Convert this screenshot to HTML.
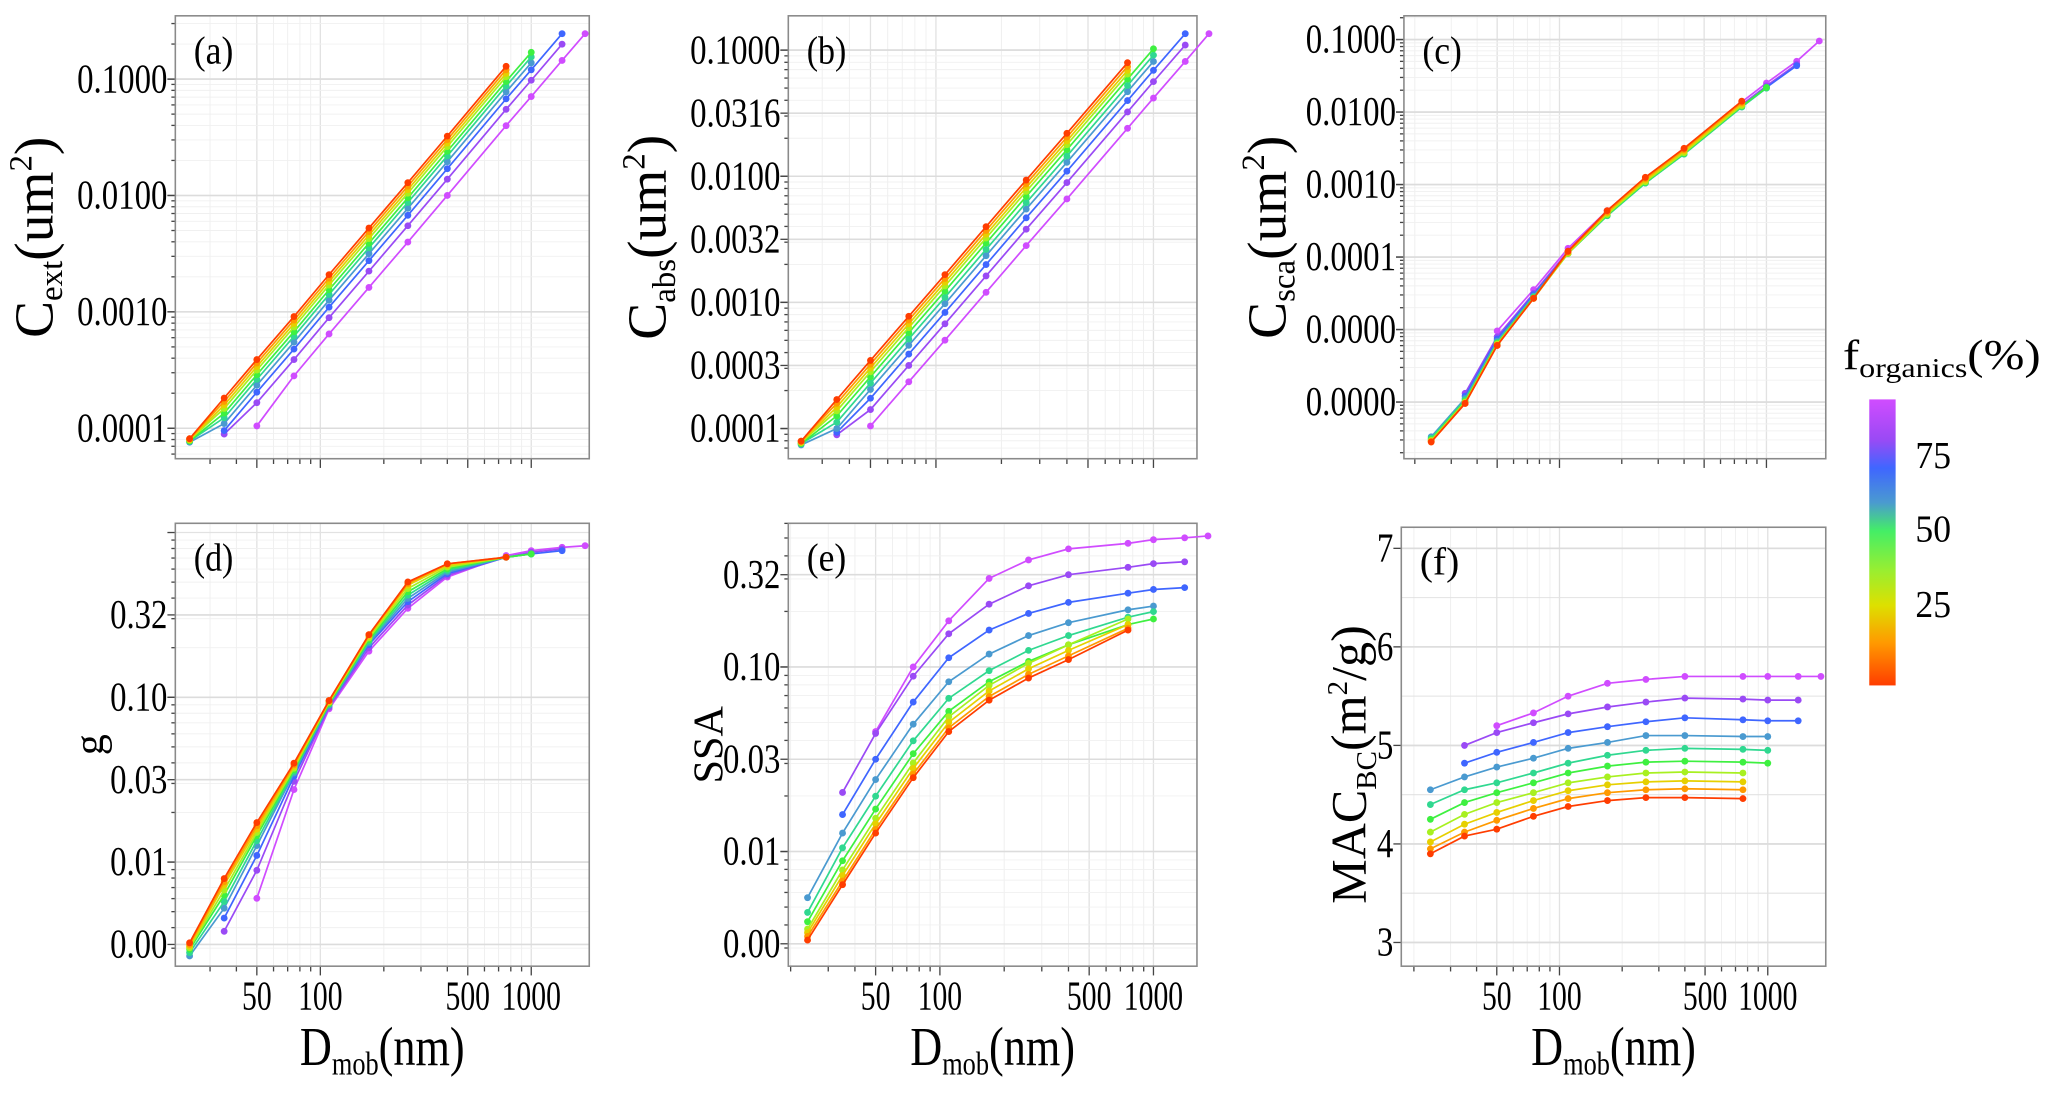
<!DOCTYPE html>
<html><head><meta charset="utf-8"><style>
html,body{margin:0;padding:0;background:#fff;}
svg{display:block;font-family:"Liberation Serif",serif;}
</style></head><body>
<svg id="fig" width="2067" height="1093" viewBox="0 0 1568 829.2" preserveAspectRatio="none" xmlns="http://www.w3.org/2000/svg">
<defs>
<linearGradient id="cbar" x1="0" y1="0" x2="0" y2="1">
<stop offset="0" stop-color="#d04cff"/>
<stop offset="0.14" stop-color="#9a4af5"/>
<stop offset="0.24" stop-color="#3f66ff"/>
<stop offset="0.36" stop-color="#4a9ad0"/>
<stop offset="0.46" stop-color="#44ee66"/>
<stop offset="0.6" stop-color="#9aee30"/>
<stop offset="0.72" stop-color="#dde000"/>
<stop offset="0.85" stop-color="#ff9a00"/>
<stop offset="1" stop-color="#ff3d00"/>
</linearGradient>
</defs>
<g id="root"></g>
<g>
<text x="1398" y="280" font-size="32" textLength="150" lengthAdjust="spacingAndGlyphs">f<tspan font-size="21" dy="6">organics</tspan><tspan dy="-6">(%)</tspan></text>
<rect x="1418" y="303" width="20" height="217" fill="url(#cbar)"/>
<text x="1453" y="355" font-size="29" textLength="27" lengthAdjust="spacingAndGlyphs">75</text>
<text x="1453" y="411" font-size="29" textLength="27" lengthAdjust="spacingAndGlyphs">50</text>
<text x="1453" y="468" font-size="29" textLength="27" lengthAdjust="spacingAndGlyphs">25</text>
</g>
</svg>
<script>
const NS="http://www.w3.org/2000/svg";
const diameters=[24,35,50,75,110,170,260,400,760,1000,1400,1800];
const organicFraction=[0,10,20,30,40,50,60,70,80,90];
const seriesColors=["#ff3d00","#ff9a00","#e6d000","#a8f020","#3ef040","#30d890","#4a9ad0","#3f66ff","#9a4af5","#d04cff"];
const startIdx=[0,0,0,0,0,0,0,1,1,2];
const endIdx=[8,8,8,8,9,9,9,10,10,11];
// (a) log10 Cext
const logCext=[
[-4.09,-3.74,-3.41,-3.04,-2.68,-2.28,-1.89,-1.49,-0.89],
[-4.09,-3.77,-3.44,-3.07,-2.71,-2.31,-1.92,-1.52,-0.92],
[-4.10,-3.80,-3.47,-3.10,-2.74,-2.34,-1.95,-1.55,-0.95],
[-4.10,-3.83,-3.50,-3.13,-2.77,-2.37,-1.98,-1.58,-0.98],
[-4.11,-3.87,-3.54,-3.17,-2.81,-2.41,-2.02,-1.62,-1.02,-0.77],
[-4.11,-3.91,-3.58,-3.21,-2.85,-2.45,-2.06,-1.66,-1.06,-0.81],
[-4.12,-3.96,-3.63,-3.26,-2.90,-2.50,-2.11,-1.71,-1.11,-0.86],
[-4.02,-3.69,-3.32,-2.96,-2.56,-2.17,-1.77,-1.17,-0.92,-0.61],
[-4.05,-3.78,-3.41,-3.05,-2.65,-2.26,-1.86,-1.26,-1.01,-0.70],
[-3.98,-3.55,-3.19,-2.79,-2.40,-2.00,-1.40,-1.15,-0.84,-0.61]];
// (b) log10 Cabs
const logCabs=[
[-4.10,-3.77,-3.46,-3.11,-2.78,-2.40,-2.03,-1.66,-1.10],
[-4.10,-3.80,-3.49,-3.14,-2.81,-2.43,-2.06,-1.69,-1.13],
[-4.11,-3.83,-3.52,-3.17,-2.84,-2.46,-2.09,-1.72,-1.16],
[-4.11,-3.86,-3.55,-3.20,-2.87,-2.49,-2.12,-1.75,-1.19],
[-4.12,-3.90,-3.59,-3.24,-2.91,-2.53,-2.16,-1.79,-1.23,-0.99],
[-4.12,-3.95,-3.64,-3.29,-2.96,-2.58,-2.21,-1.84,-1.28,-1.04],
[-4.13,-4.00,-3.69,-3.34,-3.01,-2.63,-2.26,-1.89,-1.33,-1.09],
[-4.03,-3.76,-3.41,-3.08,-2.70,-2.33,-1.96,-1.40,-1.16,-0.87],
[-4.05,-3.85,-3.50,-3.17,-2.79,-2.42,-2.05,-1.49,-1.25,-0.96],
[-3.98,-3.63,-3.30,-2.92,-2.55,-2.18,-1.62,-1.38,-1.09,-0.87]];
// (c) log10 Csca
const logCsca=[
[-6.55,-6.02,-5.22,-4.57,-3.92,-3.36,-2.90,-2.50,-1.85],
[-6.55,-6.02,-5.22,-4.57,-3.93,-3.38,-2.92,-2.52,-1.87],
[-6.54,-6.01,-5.21,-4.57,-3.94,-3.39,-2.94,-2.54,-1.89],
[-6.53,-6.00,-5.20,-4.57,-3.95,-3.41,-2.96,-2.56,-1.91],
[-6.52,-5.99,-5.19,-4.56,-3.95,-3.42,-2.97,-2.57,-1.92,-1.66],
[-6.50,-5.97,-5.18,-4.55,-3.95,-3.43,-2.98,-2.58,-1.93,-1.67],
[-6.48,-5.95,-5.16,-4.54,-3.95,-3.43,-2.98,-2.58,-1.93,-1.67],
[-5.92,-5.13,-4.52,-3.94,-3.42,-2.97,-2.57,-1.92,-1.66,-1.36],
[-5.88,-5.10,-4.50,-3.92,-3.40,-2.95,-2.55,-1.90,-1.64,-1.34],
[-5.02,-4.45,-3.88,-3.36,-2.91,-2.51,-1.86,-1.60,-1.30,-1.02]];
// (d) log10 g
const logG=[
[-2.49,-2.10,-1.76,-1.40,-1.02,-0.62,-0.30,-0.19,-0.15],
[-2.50,-2.12,-1.78,-1.41,-1.02,-0.62,-0.31,-0.19,-0.15],
[-2.51,-2.14,-1.80,-1.42,-1.03,-0.63,-0.32,-0.20,-0.15],
[-2.52,-2.17,-1.82,-1.43,-1.03,-0.64,-0.34,-0.21,-0.15],
[-2.53,-2.20,-1.84,-1.44,-1.04,-0.65,-0.36,-0.22,-0.15,-0.13],
[-2.55,-2.24,-1.87,-1.45,-1.04,-0.66,-0.38,-0.23,-0.15,-0.13],
[-2.57,-2.28,-1.90,-1.46,-1.05,-0.67,-0.40,-0.24,-0.15,-0.13],
[-2.34,-1.96,-1.48,-1.05,-0.68,-0.42,-0.25,-0.15,-0.13,-0.11],
[-2.42,-2.05,-1.51,-1.06,-0.70,-0.44,-0.26,-0.15,-0.12,-0.10],
[-2.22,-1.56,-1.07,-0.72,-0.46,-0.27,-0.14,-0.11,-0.09,-0.08]];
// (e) log10 SSA
const logSSA=[
[-2.48,-2.18,-1.90,-1.60,-1.35,-1.18,-1.06,-0.96,-0.80],
[-2.46,-2.16,-1.88,-1.58,-1.33,-1.16,-1.04,-0.94,-0.79],
[-2.44,-2.13,-1.85,-1.55,-1.30,-1.13,-1.01,-0.91,-0.77],
[-2.42,-2.10,-1.82,-1.52,-1.27,-1.10,-0.98,-0.88,-0.74],
[-2.38,-2.05,-1.77,-1.47,-1.24,-1.08,-0.97,-0.88,-0.77,-0.74],
[-2.33,-1.98,-1.70,-1.40,-1.17,-1.02,-0.91,-0.83,-0.73,-0.70],
[-2.25,-1.90,-1.61,-1.31,-1.08,-0.93,-0.83,-0.76,-0.69,-0.67],
[-1.80,-1.50,-1.19,-0.95,-0.80,-0.71,-0.65,-0.60,-0.58,-0.57],
[-1.68,-1.36,-1.05,-0.82,-0.66,-0.56,-0.50,-0.46,-0.44,-0.43],
[-1.35,-1.00,-0.75,-0.52,-0.42,-0.36,-0.33,-0.31,-0.30,-0.29]];
// (f) MAC_BC (m2/g)
const macBC=[
[3.90,4.08,4.15,4.28,4.38,4.44,4.47,4.47,4.46],
[3.95,4.12,4.24,4.36,4.46,4.52,4.55,4.56,4.55],
[4.02,4.20,4.32,4.44,4.54,4.60,4.63,4.64,4.63],
[4.12,4.30,4.42,4.52,4.62,4.68,4.72,4.73,4.72],
[4.25,4.42,4.52,4.62,4.72,4.79,4.83,4.84,4.83,4.82],
[4.40,4.55,4.62,4.72,4.82,4.90,4.95,4.97,4.96,4.95],
[4.55,4.68,4.78,4.87,4.97,5.03,5.10,5.10,5.09,5.09],
[4.82,4.93,5.03,5.13,5.19,5.24,5.28,5.26,5.25,5.25],
[5.00,5.13,5.23,5.32,5.39,5.44,5.48,5.47,5.46,5.46],
[5.20,5.33,5.50,5.63,5.67,5.70,5.70,5.70,5.70,5.70]];
const xTickVals=[50,100,500,1000];
const xTickLabels=["50","100","500","1000"];
const yTicksA=[-4,-3,-2,-1], yLabelsA=["0.0001","0.0010","0.0100","0.1000"];
const yTicksB=[-4,-3.5,-3,-2.5,-2,-1.5,-1], yLabelsB=["0.0001","0.0003","0.0010","0.0032","0.0100","0.0316","0.1000"];
const yTicksC=[-6,-5,-4,-3,-2,-1], yLabelsC=["0.0000","0.0000","0.0001","0.0010","0.0100","0.1000"];
const yTicksD=[-2.5,-2,-1.5,-1,-0.5], yLabelsD=["0.00","0.01","0.03","0.10","0.32"];
const yTicksF=[3,4,5,6,7], yLabelsF=["3","4","5","6","7"];

const root=document.getElementById('root');
function el(tag,attrs,parent){const e=document.createElementNS(NS,tag);for(const k in attrs)e.setAttribute(k,attrs[k]);(parent||root).appendChild(e);return e;}
function lenOf(s){let w=0;for(const ch of s)w+=(ch==='.'?6:12.5);return w;}

const panels=[
 {id:'a',label:'(a)',data:logCext,box:[133,447,12,348],xc:243,xk:160,y:v=>60-88.3*(v+1),log:true,yr:[-4.3,-0.3],ticks:yTicksA,labels:yLabelsA,xlab:false},
 {id:'b',label:'(b)',data:logCabs,box:[598,908,12,348],xc:710,xk:165,y:v=>38-95.7*(v+1),log:true,yr:[-4.2,-0.7],ticks:yTicksB,labels:yLabelsB,xlab:false},
 {id:'c',label:'(c)',data:logCsca,box:[1065,1385,12,348],xc:1183,xk:157,y:v=>30-55*(v+1),log:true,yr:[-6.7,-0.6],ticks:yTicksC,labels:yLabelsC,xlab:false},
 {id:'d',label:'(d)',data:logG,box:[133,447,397,733],xc:243,xk:160,y:v=>529-125*(v+1),log:true,yr:[-2.6,0],ticks:yTicksD,labels:yLabelsD,xlab:true},
 {id:'e',label:'(e)',data:logSSA,box:[598,908,397,733],xc:713,xk:162,y:v=>506-140*(v+1),log:true,yr:[-2.6,-0.1],ticks:yTicksD,labels:yLabelsD,xlab:true},
 {id:'f',label:'(f)',data:macBC,box:[1063,1385,400,733],xc:1183,xk:158,y:v=>416-74.75*(v-7),log:false,yr:[2.8,7.2],ticks:yTicksF,labels:yLabelsF,xlab:true}
];

panels.forEach(p=>{
 const [x0,x1,y0,y1]=p.box;
 const xs=d=>p.xc+p.xk*Math.log10(d/100);
 const g=el('g',{});
 
 
 el('rect',{x:x0,y:y0,width:x1-x0,height:y1-y0,fill:'#fff'},g);
 for(let dec=10;dec<=1000;dec*=10){for(let m=1;m<10;m++){const d=m*dec;const x=xs(d);if(x<=x0||x>=x1)continue;
   const major=(m===1||m===5);
   el('line',{x1:x,x2:x,y1:y0,y2:y1,stroke:major?'#e2e2e2':'#efefef','stroke-width':major?1:0.7},g);
   el('line',{x1:x,x2:x,y1:y1,y2:y1+(major?7:4),stroke:'#444','stroke-width':1},g);}}
 if(p.log){for(let n=-8;n<=0;n++){for(let m=1;m<10;m++){const v=n+Math.log10(m);if(v<p.yr[0]||v>p.yr[1])continue;const y=p.y(v);if(y<=y0||y>=y1)continue;
   el('line',{x1:x0,x2:x1,y1:y,y2:y,stroke:m===1?'#e2e2e2':'#f0f0f0','stroke-width':m===1?1:0.7},g);
   el('line',{x1:x0-(m===1?6:3),x2:x0,y1:y,y2:y,stroke:'#444','stroke-width':1},g);}}}
 else{for(let v=3;v<=7;v+=0.5){const y=p.y(v);el('line',{x1:x0,x2:x1,y1:y,y2:y,stroke:'#e2e2e2','stroke-width':Number.isInteger(v)?1.2:0.8},g);}}
 p.ticks.forEach((t,i)=>{const y=p.y(t);
   el('line',{x1:x0,x2:x1,y1:y,y2:y,stroke:'#dcdcdc','stroke-width':1.2},g);
   el('line',{x1:x0-6,x2:x0,y1:y,y2:y,stroke:'#444','stroke-width':1},g);
   const tx=el('text',{x:x0-6,y:y+10,'text-anchor':'end','font-size':31,textLength:lenOf(p.labels[i]),lengthAdjust:'spacingAndGlyphs'},g);
   
   
   tx.textContent=p.labels[i];});
 el('rect',{x:x0,y:y0,width:x1-x0,height:y1-y0,fill:'none',stroke:'#8a8a8a','stroke-width':1.2},g);
 if(p.xlab){xTickVals.forEach((v,i)=>{const t=el('text',{x:xs(v),y:y1+33,'text-anchor':'middle','font-size':31,textLength:lenOf(xTickLabels[i])*0.9,lengthAdjust:'spacingAndGlyphs'},g);
   
   
   t.textContent=xTickLabels[i];});}
 const lab=el('text',{x:x0+14,y:y0+36,'font-size':30,textLength:30,lengthAdjust:'spacingAndGlyphs'},g);
 
 
 lab.textContent=p.label;
 for(let s=p.data.length-1;s>=0;s--){
   const vals=p.data[s];const pts=[];
   vals.forEach((v,j)=>{const d=diameters[startIdx[s]+j];pts.push([xs(d),p.y(v)]);});
   const sg=el('g',{},g);
   
   
   const pl=el('polyline',{points:pts.map(q=>q.join(',')).join(' '),fill:'none',stroke:seriesColors[s],'stroke-width':1.3},sg);
   
   
   pts.forEach(q=>{const c=el('circle',{cx:q[0],cy:q[1],r:2.6,fill:seriesColors[s]},sg);
     
     });
 }
});

function title(x,y,rot,html,name,size,len){const a={x:x,y:y,'text-anchor':'middle','font-size':size||40,transform:rot?`rotate(-90 ${x} ${y})`:''};
 if(len){a.textLength=len;a.lengthAdjust='spacingAndGlyphs';}
 const t=el('text',a);
 
 
 t.innerHTML=html;}
const sub=s=>`<tspan font-size="25" dy="7">${s}</tspan><tspan dy="-7">`;
title(40,180,true,`C${sub('ext')}(um</tspan><tspan font-size="25" dy="-16">2</tspan><tspan dy="16">)</tspan>`,'y-axis-title-cext',42);
title(505,180,true,`C${sub('abs')}(um</tspan><tspan font-size="25" dy="-16">2</tspan><tspan dy="16">)</tspan>`,'y-axis-title-cabs',42);
title(975,180,true,`C${sub('sca')}(um</tspan><tspan font-size="25" dy="-16">2</tspan><tspan dy="16">)</tspan>`,'y-axis-title-csca',42);
title(78,565,true,`g`,'y-axis-title-g',32);
title(548,565,true,`SSA`,'y-axis-title-ssa',32);
title(1036,580,true,`MAC<tspan font-size="22" dy="8">BC</tspan><tspan dy="-8">(m</tspan><tspan font-size="22" dy="-14">2</tspan><tspan dy="14">/g)</tspan>`,'y-axis-title-mac',38);
[290,753,1224].forEach((x,i)=>title(x,808,false,`D${sub('mob')}(nm)</tspan>`,'x-axis-title-'+['d','e','f'][i],42,125));
</script>
</body></html>
